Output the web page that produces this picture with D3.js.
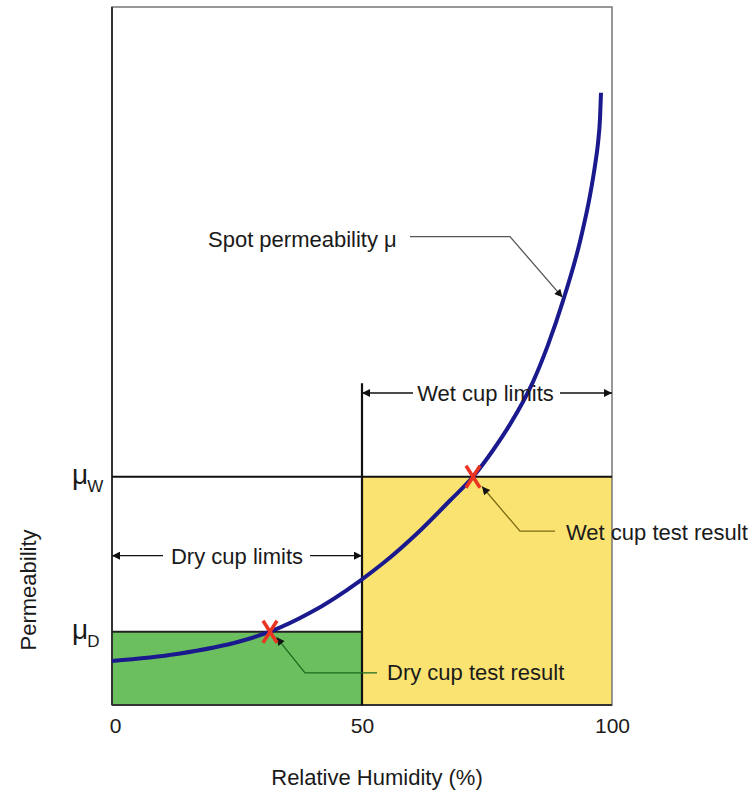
<!DOCTYPE html>
<html>
<head>
<meta charset="utf-8">
<script src="https://cdn.jsdelivr.net/npm/d3@7"></script>
<style>
  body { margin: 0; background: #fff; }
  text { font-family: "Liberation Sans", Arial, sans-serif; fill: #1a1a1a; }
</style>
</head>
<body>
<div id="chart"></div>
<script>
// curve (RH %, permeability in arbitrary units 0-100)
const rh = [0, 13, 26, 31.6, 39.6, 49.6, 54.2, 60.9, 67.6, 72.2, 76.2, 79.6, 84.2, 87.2, 90.2, 93.6, 95.6, 96.6, 97.2, 97.6, 97.8];
const mu = [6.3, 7.3, 9.2, 10.5, 13.2, 17.8, 20.3, 24.5, 29.3, 32.7, 36.5, 40.2, 46.3, 51.6, 57.9, 66.4, 73.0, 77.3, 80.5, 84.0, 87.7];

const xTicks = [0, 50, 100];
const muD = 10.5, muW = 32.7;          // test results
const dryX = 31.6, wetX = 72.2;        // RH of test results
const yLabels = [{main: 'μ', sub: 'W', v: muW}, {main: 'μ', sub: 'D', v: muD}];

const W = 753, H = 793;
const margin = {top: 7, right: 141, bottom: 88, left: 112};
const iw = W - margin.left - margin.right;
const ih = H - margin.top - margin.bottom;

const svg = d3.select('#chart').append('svg').attr('width', W).attr('height', H);
const defs = svg.append('defs');
function marker(id, color) {
  defs.append('marker').attr('id', id)
    .attr('viewBox', '0 0 10 10').attr('refX', 10).attr('refY', 5)
    .attr('markerWidth', 13).attr('markerHeight', 8).attr('markerUnits', 'userSpaceOnUse')
    .attr('orient', 'auto-start-reverse')
    .append('path').attr('d', 'M0,0L10,5L0,10Z').attr('fill', color);
}
marker('arr', '#111');

const g = svg.append('g').attr('transform', `translate(${margin.left},${margin.top})`);

const x = d3.scaleLinear().domain([0, 100]).range([0, iw]);
const y = d3.scaleLinear().domain([0, 100]).range([ih, 0]);

// coloured regions
g.append('rect').attr('x', x(0)).attr('y', y(muD)).attr('width', x(50) - x(0)).attr('height', y(0) - y(muD))
  .attr('fill', '#6cbf5e');
g.append('rect').attr('x', x(50)).attr('y', y(muW)).attr('width', x(100) - x(50)).attr('height', y(0) - y(muW))
  .attr('fill', '#fbe372');

// frame
g.append('rect').attr('width', iw).attr('height', ih).attr('fill', 'none').attr('stroke', '#777').attr('stroke-width', 1.5);
g.append('line').attr('x1', 0).attr('x2', 0).attr('y1', 0).attr('y2', ih).attr('stroke', '#333').attr('stroke-width', 2);
g.append('line').attr('x1', 0).attr('x2', iw).attr('y1', ih).attr('y2', ih).attr('stroke', '#333').attr('stroke-width', 2);

// limit lines
g.append('line').attr('x1', x(0)).attr('x2', x(100)).attr('y1', y(muW)).attr('y2', y(muW)).attr('stroke', '#111').attr('stroke-width', 2.2);
g.append('line').attr('x1', x(0)).attr('x2', x(50)).attr('y1', y(muD)).attr('y2', y(muD)).attr('stroke', '#222').attr('stroke-width', 2);
g.append('line').attr('x1', x(50)).attr('x2', x(50)).attr('y1', y(0)).attr('y2', y(46.1)).attr('stroke', '#111').attr('stroke-width', 2.2);

// x axis
const xAxis = d3.axisBottom(x).tickValues(xTicks).tickSize(0).tickPadding(13);
g.append('g').attr('transform', `translate(0,${ih})`).call(xAxis)
  .call(s => s.select('.domain').remove())
  .selectAll('text').attr('font-size', 21).attr('font-family', '"Liberation Sans", Arial, sans-serif').attr('fill', '#1a1a1a')
  .attr('dx', (d, i) => i === 0 ? 3 : 0);

// y labels
const yl = g.selectAll('.ylab').data(yLabels).join('text').attr('class', 'ylab')
  .attr('x', -40).attr('y', d => y(d.v) + 7).attr('font-size', 28);
yl.append('tspan').text(d => d.main);
yl.append('tspan').attr('font-size', 17).attr('dy', 8).attr('dx', -1).text(d => d.sub);

// axis titles
svg.append('text').attr('x', 377).attr('y', 785).attr('text-anchor', 'middle').attr('font-size', 22)
  .text('Relative Humidity (%)');
svg.append('text').attr('transform', 'translate(36,590) rotate(-90)').attr('text-anchor', 'middle').attr('font-size', 22)
  .text('Permeability');

// curve
const line = d3.line().x((d, i) => x(rh[i])).y(d => y(d)).curve(d3.curveMonotoneX);
g.append('path').datum(mu).attr('d', line).attr('fill', 'none').attr('stroke', '#1a1a8e').attr('stroke-width', 4);

// limit arrows
function arrow(x1, y1, x2, y2) {
  g.append('line').attr('x1', x(x1)).attr('y1', y(y1)).attr('x2', x(x2)).attr('y2', y(y2))
    .attr('stroke', '#111').attr('stroke-width', 1.3).attr('marker-end', 'url(#arr)');
}
arrow(10.2, 21.4, 0, 21.4);
arrow(39.6, 21.4, 50, 21.4);
arrow(60.2, 44.7, 50, 44.7);
arrow(89.6, 44.7, 100, 44.7);
g.append('text').attr('x', x(25)).attr('y', y(21.4) + 8).attr('text-anchor', 'middle').attr('font-size', 22).text('Dry cup limits');
g.append('text').attr('x', x(74.7)).attr('y', y(44.7) + 8).attr('text-anchor', 'middle').attr('font-size', 22).text('Wet cup limits');

// leaders
function leader(pts, color) {
  g.append('path').attr('d', d3.line().x(p => x(p[0])).y(p => y(p[1]))(pts))
    .attr('fill', 'none').attr('stroke', color).attr('stroke-width', 1.3).attr('marker-end', 'url(#arr)');
}
leader([[59.6, 67.1], [79.6, 67.1], [90.1, 58.4]], '#555');
leader([[88.6, 24.9], [81.6, 24.9], [74.0, 31.3]], '#7a6a12');
leader([[53.0, 4.6], [38.6, 4.6], [32.9, 9.7]], '#1d6a1d');

g.append('text').attr('x', x(19.2)).attr('y', y(65.6)).attr('font-size', 22).text('Spot permeability μ');
g.append('text').attr('x', x(90.8)).attr('y', y(23.6)).attr('font-size', 22).text('Wet cup test result');
g.append('text').attr('x', x(55)).attr('y', y(3.6)).attr('font-size', 22).text('Dry cup test result');

// test result crosses
const crosses = [[dryX, muD], [wetX, muW]];
g.selectAll('.cross').data(crosses).join('path').attr('class', 'cross')
  .attr('transform', d => `translate(${x(d[0])},${y(d[1])})`)
  .attr('d', 'M-7,-11L7,11M7,-11L-7,11')
  .attr('stroke', '#ea3320').attr('stroke-width', 3.5).attr('fill', 'none');
</script>
</body>
</html>
